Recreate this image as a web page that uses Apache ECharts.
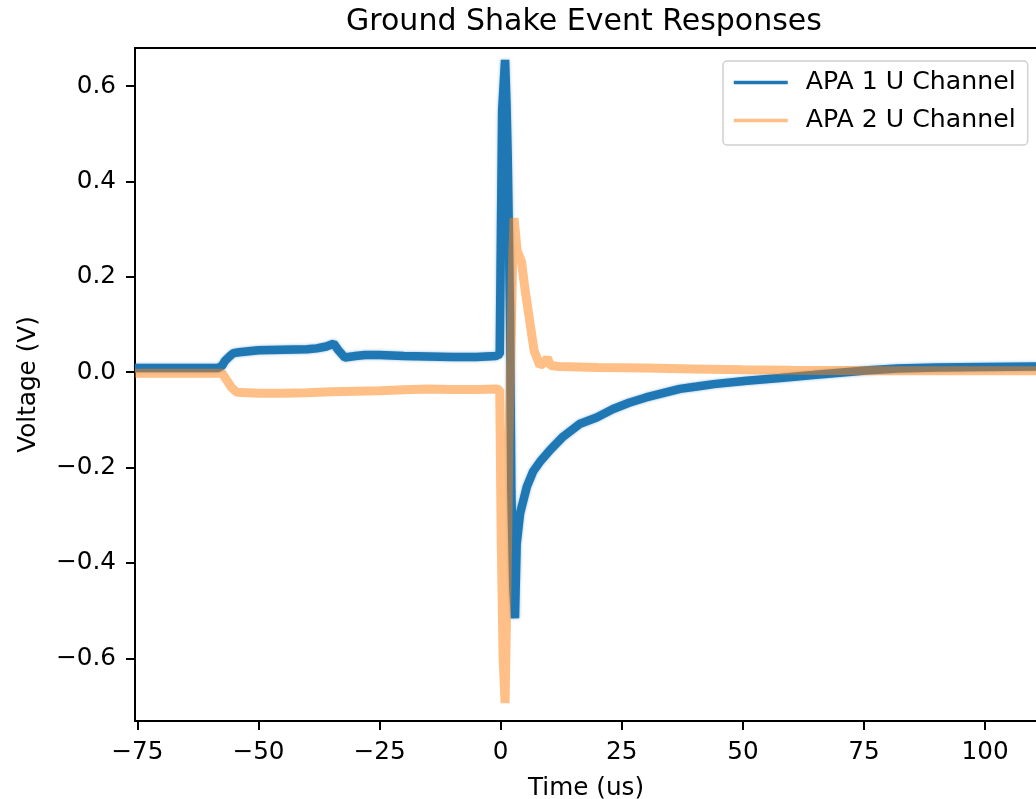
<!DOCTYPE html>
<html>
<head>
<meta charset="utf-8">
<script src="https://cdn.jsdelivr.net/npm/echarts@6/dist/echarts.min.js"></script>
<style>
html,body{margin:0;padding:0;background:#fff;}
#chart{width:1036px;height:799px;}
</style>
</head>
<body>
<div id="chart"></div>
<script>
const titleText = 'Ground Shake Event Responses';
const seriesNames = ['APA 1 U Channel', 'APA 2 U Channel'];
const xTicks = [-75, -50, -25, 0, 25, 50, 75, 100];
const yTicks = [-0.6, -0.4, -0.2, 0.0, 0.2, 0.4, 0.6];

const apa1Time = [-75.5, -58.3, -57.5, -56.9, -56, -55.2, -54, -52, -50, -45, -40, -38, -36, -34.5, -33.5, -32.2, -30, -28, -25, -20, -15, -10, -5, -1, -0.2, 0.05, 0.3, 0.9, 1.2, 1.45, 1.6, 1.92, 2.2, 2.6, 2.95, 3.3, 4.0, 4.7, 5.4, 6.7, 8.1, 10.2, 12.9, 16.4, 19.8, 23.2, 26.5, 30, 33.5, 37, 40.5, 44, 50.8, 57.7, 64.5, 70, 76, 82, 90, 100, 110.7];
const apa1Volt = [0.009, 0.009, 0.014, 0.024, 0.033, 0.040, 0.042, 0.044, 0.046, 0.047, 0.048, 0.050, 0.054, 0.060, 0.046, 0.031, 0.034, 0.036, 0.036, 0.034, 0.033, 0.032, 0.032, 0.034, 0.038, 0.30, 0.55, 0.655, 0.56, 0.45, 0.35, 0.124, -0.25, -0.45, -0.516, -0.36, -0.296, -0.268, -0.240, -0.208, -0.188, -0.163, -0.135, -0.108, -0.095, -0.077, -0.064, -0.053, -0.044, -0.035, -0.030, -0.025, -0.018, -0.012, -0.006, -0.001, 0.004, 0.008, 0.010, 0.011, 0.012];

const apa2Time = [-75.5, -57.5, -56.6, -55.5, -54.5, -50, -45, -40, -35, -30, -25, -20, -15, -10, -5, -1, -0.2, 0.1, 0.5, 0.9, 1.3, 1.7, 2.1, 2.5, 2.75, 3.4, 4.3, 5.0, 6.05, 6.9, 8.1, 9.0, 9.6, 10.3, 12, 20, 30, 40, 50, 60, 80, 100, 110.7];
const apa2Volt = [-0.002, -0.002, -0.016, -0.033, -0.042, -0.044, -0.044, -0.043, -0.041, -0.040, -0.039, -0.037, -0.035, -0.036, -0.036, -0.035, -0.037, -0.35, -0.60, -0.694, -0.45, -0.15, 0.05, 0.25, 0.323, 0.255, 0.232, 0.175, 0.103, 0.045, 0.014, 0.02, 0.03, 0.014, 0.012, 0.010, 0.009, 0.007, 0.005, 0.004, 0.003, 0.003, 0.003];

const FONT = 'DejaVu Sans';
const minusFmt = (s) => String(s).replace('-', '\u2212');

const chart = echarts.init(document.getElementById('chart'), null, {renderer: 'canvas'});
chart.setOption({
  animation: false,
  backgroundColor: '#ffffff',
  textStyle: {fontFamily: FONT, color: '#000'},
  title: {
    text: titleText,
    left: 579,
    textAlign: 'center',
    top: 2,
    textStyle: {fontFamily: FONT, fontSize: 30, fontWeight: 'normal', color: '#000'}
  },
  grid: {
    left: 135, top: 48, width: 902, height: 673,
    containLabel: false,
    outerBoundsMode: 'none',
    show: true, borderColor: '#000', borderWidth: 2, backgroundColor: 'transparent'
  },
  legend: {
    orient: 'vertical',
    left: 723, top: 61,
    padding: [9, 12, 12, 9],
    itemGap: 13,
    itemWidth: 54,
    itemHeight: 25,
    backgroundColor: 'rgba(255,255,255,0.8)',
    borderColor: '#d0d0d0',
    borderWidth: 1.5,
    borderRadius: 4,
    itemStyle: {opacity: 0, borderWidth: 0},
    textStyle: {fontFamily: FONT, fontSize: 25.2, color: '#000', padding: [0, 0, 0, 13]},
    lineStyle: {width: 3.5},
    data: seriesNames
  },
  xAxis: {
    type: 'value',
    min: -75.5, max: 110.72,
    name: 'Time (us)',
    nameLocation: 'middle',
    nameGap: 55,
    nameTextStyle: {fontFamily: FONT, fontSize: 24.7, color: '#000'},
    axisLine: {show: true, onZero: false, lineStyle: {color: '#000', width: 2}},
    axisTick: {show: true, length: 9, lineStyle: {color: '#000', width: 2}, customValues: xTicks},
    axisLabel: {fontFamily: FONT, fontSize: 24.7, color: '#000', margin: 19, customValues: xTicks,
      formatter: (v) => minusFmt(Math.round(v))},
    splitLine: {show: false}
  },
  yAxis: {
    type: 'value',
    min: -0.7315, max: 0.680,
    name: 'Voltage (V)',
    nameLocation: 'middle',
    nameGap: 94,
    nameTextStyle: {fontFamily: FONT, fontSize: 24.7, color: '#000'},
    axisLine: {show: true, onZero: false, lineStyle: {color: '#000', width: 2}},
    axisTick: {show: true, length: 9, lineStyle: {color: '#000', width: 2}, customValues: yTicks},
    axisLabel: {fontFamily: FONT, fontSize: 24.7, color: '#000', margin: 19, customValues: yTicks,
      formatter: (v) => minusFmt(Number(v).toFixed(1))},
    splitLine: {show: false}
  },
  series: [
    {
      name: seriesNames[0],
      type: 'line',
      data: apa1Time.map((t, i) => [t, apa1Volt[i]]),
      symbol: 'none',
      sampling: 'none',
      color: '#1f77b4',
      lineStyle: {color: '#1f77b4', width: 8.5, join: 'bevel', shadowColor: 'rgba(31,119,180,0.5)', shadowBlur: 3},
      z: 2
    },
    {
      name: seriesNames[1],
      type: 'line',
      data: apa2Time.map((t, i) => [t, apa2Volt[i]]),
      symbol: 'none',
      sampling: 'none',
      color: '#ff7f0e',
      lineStyle: {color: '#ff7f0e', width: 9, opacity: 0.5, join: 'bevel'},
      z: 3
    }
  ]
});
</script>
</body>
</html>
